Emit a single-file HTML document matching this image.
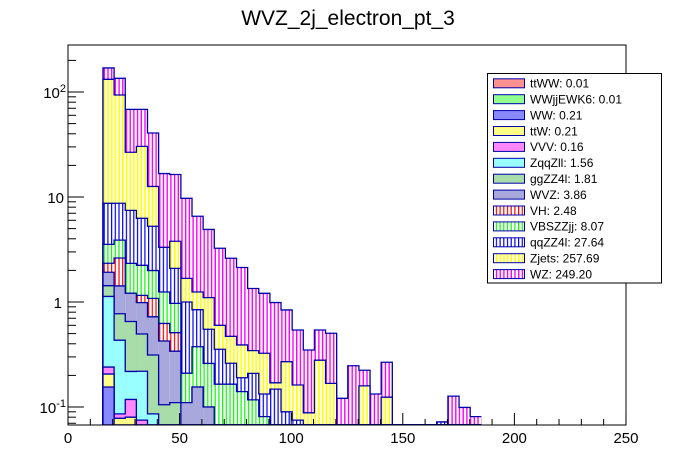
<!DOCTYPE html>
<html><head><meta charset="utf-8"><style>
html,body{margin:0;padding:0;background:#fff;width:696px;height:472px;overflow:hidden;}
svg{display:block;font-family:"Liberation Sans",sans-serif;}
</style></head><body>
<svg id="c" width="696" height="472" xmlns="http://www.w3.org/2000/svg">
<defs>
<pattern id="p-VH" width="3.7" height="4" patternUnits="userSpaceOnUse"><rect width="3.7" height="4" fill="#fff"/><rect width="1.2" height="4" fill="#ff0000"/></pattern>
<pattern id="p-VBS" width="3.7" height="4" patternUnits="userSpaceOnUse"><rect width="3.7" height="4" fill="#fff"/><rect width="1.2" height="4" fill="#00ff00"/></pattern>
<pattern id="p-qqZZ" width="3.7" height="4" patternUnits="userSpaceOnUse"><rect width="3.7" height="4" fill="#fff"/><rect width="1.2" height="4" fill="#0000ff"/></pattern>
<pattern id="p-Zjets" width="3.7" height="4" patternUnits="userSpaceOnUse"><rect width="3.7" height="4" fill="#fff"/><rect width="1.6" height="4" fill="#ffff00"/></pattern>
<pattern id="p-WZ" width="3.7" height="4" patternUnits="userSpaceOnUse"><rect width="3.7" height="4" fill="#fff"/><rect width="1.4" height="4" fill="#ff00ff"/></pattern>
<clipPath id="clip"><rect x="68" y="45" width="558" height="380"/></clipPath>
</defs>
<text x="348" y="25" font-size="21" text-anchor="middle">WVZ_2j_electron_pt_3</text>
<g id="bars" clip-path="url(#clip)"></g>
<rect x="68" y="45" width="558" height="380" fill="none" stroke="#000" stroke-width="1"/>
<g id="axes"></g>
<g id="legend"></g>
</svg>
<script>
const binLow = 15, binWidth = 5;
const ttWW =  [0,0,0,0,0,0,0,0,0,0,0,0,0,0,0,0,0,0,0,0,0,0,0,0,0,0,0,0,0,0,0,0,0,0];
const WWjj =  [0,0,0,0,0,0,0,0,0,0,0,0,0,0,0,0,0,0,0,0,0,0,0,0,0,0,0,0,0,0,0,0,0,0];
const WW =    [0.155,0,0,0,0,0,0,0,0,0,0,0,0,0,0,0,0,0,0,0,0,0,0,0,0,0,0,0,0,0,0,0,0,0];
const ttW =   [0.051,0.078,0.08,0,0,0,0,0,0,0,0,0,0,0,0,0,0,0,0,0,0,0,0,0,0,0,0,0,0,0,0,0,0,0];
const VVV =   [0.034,0.008,0.038,0.075,0,0,0,0,0,0,0,0,0,0,0,0,0,0,0,0,0,0,0,0,0,0,0,0,0,0,0,0,0,0];
const ZqqZll =[0.89,0.347,0.10,0.144,0.086,0.005,0,0,0,0,0,0,0,0,0,0,0,0,0,0,0,0,0,0,0,0,0,0,0,0,0,0,0,0];
const ggZZ =  [0.30,0.34,0.434,0.277,0.227,0.10,0.11,0,0,0,0,0,0,0,0,0,0,0,0,0,0,0,0,0,0,0,0,0,0,0,0,0,0,0];
const WVZ =   [0.49,0.65,0.56,0.49,0.41,0.32,0.23,0.11,0.155,0.10,0,0,0,0,0,0,0,0,0,0,0,0,0,0,0,0,0,0,0,0,0,0,0,0];
const VH =    [0.42,1.20,0,0.17,0.36,0.20,0.17,0,0,0,0,0,0,0,0,0,0,0,0,0,0,0,0,0,0,0,0,0,0,0,0,0,0,0];
const VBS =   [1.20,1.26,1.12,1.08,0.91,0.62,0.46,0.10,0.22,0.16,0.165,0.165,0.14,0.117,0.081,0,0,0,0,0,0,0,0,0,0,0,0,0,0,0,0,0,0,0];
const qqZZ =  [5.17,4.84,5.13,4.03,3.27,2.07,1.12,0.79,0.47,0.29,0.19,0.096,0.05,0.092,0.052,0.148,0.09,0.075,0,0,0,0,0,0,0,0,0,0,0,0,0.072,0,0,0];
const Zjets = [123.3,84.9,19.2,24.1,7.34,0,1.70,0.68,0.40,0.55,0.245,0.21,0.20,0.135,0.192,0.022,0.18,0.087,0.088,0.279,0.168,0,0,0.159,0,0.124,0,0,0,0,0,0,0,0];
const WZ =    [37.4,41.4,41.7,38.0,28.1,13.4,12.6,8.04,5.31,3.81,2.65,2.14,1.74,1.0,0.885,0.818,0.57,0.379,0.261,0.262,0.336,0.121,0.247,0.065,0.133,0.143,0,0,0,0,0,0.127,0.099,0.081];
const seriesNames = ["ttWW","WWjjEWK6","WW","ttW","VVV","ZqqZll","ggZZ4l","WVZ","VH","VBSZZjj","qqZZ4l","Zjets","WZ"];
const seriesTotals = ["0.01","0.01","0.21","0.21","0.16","1.56","1.81","3.86","2.48","8.07","27.64","257.69","249.20"];
const xTicks = [0,50,100,150,200,250];
const yTickExps = [-1,0,1,2];

const series = [ttWW,WWjj,WW,ttW,VVV,ZqqZll,ggZZ,WVZ,VH,VBS,qqZZ,Zjets,WZ];
const fills = ["#ff9090","#90ff90","#8888ff","#ffff88","#ff88ff","#99ffff","#a8dca8","#a8a8dc","url(#p-VH)","url(#p-VBS)","url(#p-qqZZ)","url(#p-Zjets)","url(#p-WZ)"];
const NS="http://www.w3.org/2000/svg";
const X0=69.6, XK=2.2255, YREF=302, YDEC=105, YBOT=425;
function xs(v){return X0+v*XK;}
function ys(v){return v<=0?YBOT:Math.min(YBOT,YREF-YDEC*Math.log10(v));}
function mk(tag,attrs,parent){const e=document.createElementNS(NS,tag);for(const k in attrs)e.setAttribute(k,attrs[k]);parent.appendChild(e);return e;}
const bars=document.getElementById('bars');
const n=WZ.length;
const cum=new Array(n).fill(0);
const cumTops=[];
series.forEach((s)=>{
  for(let i=0;i<n;i++)cum[i]+=s[i];
  cumTops.push(cum.slice());
});
for(let si=series.length-1;si>=0;si--){
  const g=mk('g',{},bars);
  
  
  const tops=cumTops[si];
  for(let i=0;i<n;i++){
    if(tops[i]<=0)continue;
    const x1=xs(binLow+i*binWidth), x2=xs(binLow+(i+1)*binWidth);
    const y=ys(tops[i]);
    const r=mk('rect',{x:x1,y:y,width:x2-x1,height:Math.max(0,YBOT-y),fill:fills[si]},g);
    
    
  }
  let path='';
  for(let i=0;i<n;i++){
    const x1=xs(binLow+i*binWidth), x2=xs(binLow+(i+1)*binWidth);
    const y=ys(tops[i]);
    if(i===0)path+='M'+x1+','+YBOT;
    path+='L'+x1+','+y+'L'+x2+','+y;
  }
  const p=mk('path',{d:path,fill:'none',stroke:'#0000aa','stroke-width':1.3},g);
  
  
}
const ax=document.getElementById('axes');
for(let v=0;v<=250;v+=10){
  const x=xs(v)-1.6*(1-v/250);
  const major=v%50===0;
  const t=mk('line',{x1:x,x2:x,y1:425,y2:major?413:419,stroke:'#000','stroke-width':1},ax);
  
  
}
xTicks.forEach(v=>{
  const t=mk('text',{x:xs(v)-1.6*(1-v/250),y:443,'font-size':15,'text-anchor':'middle'},ax);
  t.textContent=v;
  
  
});
for(let e=-2;e<=2;e++){
  for(let m=1;m<=9;m++){
    const v=m*Math.pow(10,e);const y=YREF-YDEC*Math.log10(v);
    if(y<45||y>425)continue;
    const t=mk('line',{x1:68,x2:m===1?84:76,y1:y,y2:y,stroke:'#000','stroke-width':1},ax);
    
    
  }
}
yTickExps.forEach(e=>{
  const y=YREF-YDEC*e;
  const t=mk('text',{x:e===0?62:(e===1?64:66),y:y+6,'font-size':15,'text-anchor':'end'},ax);
  if(e===0)t.textContent='1';
  else if(e===1)t.textContent='10';
  else{t.textContent='10';const s=mk('tspan',{dy:-6,'font-size':11},t);s.textContent=String(e);}
  
  
});
const lg=document.getElementById('legend');
const box=mk('rect',{x:487.5,y:73.5,width:174,height:209.5,fill:'#fff',stroke:'#000','stroke-width':1},lg);


seriesNames.forEach((nm,i)=>{
  const cy=83.3+i*15.9;
  const g=mk('g',{},lg);
  
  
  mk('rect',{x:493.5,y:cy-4.5,width:31,height:9,fill:fills[i],stroke:'#0000aa','stroke-width':1},g);
  const t=mk('text',{x:530,y:cy+4.3,'font-size':12},g);
  t.textContent=nm+': '+seriesTotals[i];
});
</script>
</body></html>
